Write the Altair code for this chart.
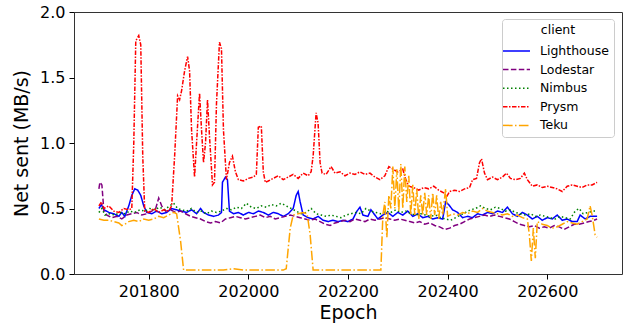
import altair as alt
import pandas as pd

clients = ["Lighthouse", "Lodestar", "Nimbus", "Prysm", "Teku"]
colors = ["blue", "purple", "green", "red", "orange"]
dashes = [[1, 0], [5.5, 2.4], [1.5, 2.5], [4.5, 1.5, 1.5, 1.5], [9.6, 2.4, 1.5, 2.4]]

x_ticks = [201800, 202000, 202200, 202400, 202600]
y_ticks = [0.0, 0.5, 1.0, 1.5, 2.0]

prysm_epoch = [201700, 201705, 201710, 201720, 201730, 201740, 201750, 201760, 201766, 201770,
               201774, 201780, 201784, 201788, 201792, 201800, 201810, 201820, 201830, 201840,
               201846, 201852, 201858, 201862, 201866, 201872, 201878, 201882, 201886, 201892,
               201896, 201902, 201906, 201910, 201914, 201918, 201922, 201928, 201932, 201936,
               201942, 201946, 201950, 201956, 201962, 201968, 201974, 201980, 201990, 202000,
               202010, 202016, 202020, 202026, 202030, 202034, 202040, 202050, 202060, 202070,
               202080, 202090, 202100, 202110, 202120, 202126, 202130, 202136, 202140, 202144,
               202148, 202156, 202166, 202174, 202184, 202194, 202204, 202214, 202224, 202234,
               202244, 202254, 202264, 202274, 202282, 202290, 202300, 202310, 202316, 202322,
               202332, 202342, 202352, 202362, 202372, 202382, 202392, 202398, 202404, 202414,
               202424, 202434, 202444, 202450, 202458, 202464, 202468, 202474, 202480, 202490,
               202500, 202510, 202518, 202526, 202536, 202546, 202554, 202560, 202570, 202580,
               202590, 202600, 202610, 202620, 202630, 202640, 202650, 202660, 202670, 202680,
               202690, 202700]
prysm_value = [0.52, 0.55, 0.50, 0.52, 0.48, 0.47, 0.50, 0.49, 0.50, 1.00,
               1.78, 1.82, 1.75, 0.90, 0.48, 0.47, 0.50, 0.47, 0.49, 0.48,
               0.52, 0.90, 1.36, 1.33, 1.40, 1.55, 1.66, 1.55, 1.10, 0.74,
               1.00, 1.38, 1.10, 0.85, 1.00, 1.33, 1.05, 0.68, 0.70, 1.30,
               1.77, 1.72, 1.10, 0.72, 0.85, 0.90, 0.78, 0.72, 0.71, 0.73,
               0.74, 0.76, 1.12, 1.13, 0.78, 0.70, 0.71, 0.73, 0.75, 0.72,
               0.74, 0.76, 0.73, 0.77, 0.75, 0.78, 0.90, 1.23, 1.15, 0.85,
               0.77, 0.76, 0.82, 0.77, 0.78, 0.75, 0.77, 0.76, 0.78, 0.76,
               0.77, 0.74, 0.72, 0.75, 0.82, 0.80, 0.78, 0.80, 0.72, 0.67,
               0.66, 0.64, 0.66, 0.65, 0.67, 0.64, 0.62, 0.59, 0.63, 0.64,
               0.63, 0.65, 0.66, 0.72, 0.73, 0.85, 0.88, 0.77, 0.72, 0.74,
               0.72, 0.74, 0.77, 0.73, 0.72, 0.73, 0.77, 0.72, 0.67, 0.68,
               0.66, 0.67, 0.66, 0.65, 0.63, 0.67, 0.68, 0.67, 0.66, 0.68,
               0.68, 0.70]

lighthouse_epoch = [201700, 201705, 201710, 201720, 201730, 201740, 201746, 201752, 201760, 201766,
                    201772, 201778, 201784, 201790, 201796, 201806, 201816, 201826, 201836, 201846,
                    201856, 201866, 201876, 201886, 201896, 201904, 201910, 201920, 201930, 201940,
                    201946, 201948, 201954, 201958, 201962, 201970, 201980, 201990, 202000, 202010,
                    202020, 202030, 202040, 202050, 202060, 202070, 202080, 202090, 202096, 202100,
                    202104, 202110, 202120, 202130, 202140, 202150, 202160, 202170, 202180, 202190,
                    202200, 202210, 202218, 202224, 202230, 202240, 202246, 202252, 202260, 202270,
                    202280, 202290, 202300, 202310, 202320, 202330, 202340, 202350, 202360, 202370,
                    202380, 202390, 202396, 202402, 202410, 202420, 202430, 202440, 202450, 202460,
                    202470, 202480, 202490, 202500, 202510, 202520, 202530, 202540, 202550, 202560,
                    202570, 202580, 202590, 202600, 202610, 202620, 202630, 202640, 202650, 202660,
                    202666, 202676, 202686, 202700]
lighthouse_value = [0.50, 0.53, 0.49, 0.47, 0.46, 0.44, 0.47, 0.44, 0.52, 0.60,
                    0.65, 0.64, 0.60, 0.52, 0.47, 0.46, 0.48, 0.46, 0.47, 0.50,
                    0.49, 0.48, 0.47, 0.49, 0.46, 0.50, 0.47, 0.45, 0.44, 0.45,
                    0.47, 0.70, 0.74, 0.72, 0.48, 0.46, 0.47, 0.45, 0.47, 0.46,
                    0.48, 0.47, 0.45, 0.47, 0.46, 0.44, 0.46, 0.50, 0.60, 0.63,
                    0.55, 0.45, 0.43, 0.42, 0.44, 0.41, 0.40, 0.41, 0.40, 0.41,
                    0.40, 0.42, 0.48, 0.51, 0.45, 0.44, 0.49, 0.46, 0.42, 0.45,
                    0.47, 0.44, 0.47, 0.45, 0.48, 0.44, 0.46, 0.43, 0.44, 0.42,
                    0.43, 0.42, 0.55, 0.53, 0.49, 0.47, 0.43, 0.44, 0.43, 0.46,
                    0.45, 0.47, 0.46, 0.48, 0.47, 0.51, 0.46, 0.44, 0.47, 0.45,
                    0.42, 0.44, 0.41, 0.43, 0.42, 0.45, 0.41, 0.42, 0.40, 0.40,
                    0.45, 0.42, 0.44, 0.44]

lodestar_epoch = [201700, 201702, 201706, 201710, 201716, 201726, 201736, 201746, 201756, 201766,
                  201776, 201786, 201796, 201806, 201814, 201820, 201826, 201834, 201844, 201854,
                  201864, 201874, 201884, 201894, 201904, 201914, 201924, 201934, 201944, 201954,
                  201964, 201974, 201984, 201994, 202004, 202014, 202024, 202034, 202044, 202054,
                  202064, 202074, 202084, 202094, 202104, 202114, 202124, 202134, 202144, 202154,
                  202164, 202174, 202184, 202194, 202204, 202214, 202224, 202234, 202244, 202254,
                  202264, 202274, 202284, 202294, 202304, 202314, 202324, 202334, 202344, 202354,
                  202364, 202374, 202384, 202394, 202404, 202414, 202424, 202434, 202444, 202454,
                  202464, 202474, 202484, 202494, 202504, 202514, 202524, 202534, 202544, 202554,
                  202564, 202574, 202584, 202594, 202604, 202614, 202624, 202634, 202644, 202654,
                  202664, 202674, 202684, 202694, 202700]
lodestar_value = [0.65, 0.70, 0.68, 0.48, 0.45, 0.43, 0.44, 0.42, 0.45, 0.46,
                  0.47, 0.45, 0.46, 0.48, 0.50, 0.58, 0.52, 0.48, 0.49, 0.47,
                  0.48, 0.46, 0.44, 0.43, 0.42, 0.40, 0.39, 0.40, 0.39, 0.42,
                  0.43, 0.44, 0.43, 0.42, 0.43, 0.44, 0.45, 0.43, 0.44, 0.42,
                  0.43, 0.44, 0.45, 0.44, 0.43, 0.42, 0.41, 0.42, 0.40, 0.38,
                  0.37, 0.39, 0.40, 0.41, 0.40, 0.42, 0.41, 0.40, 0.42, 0.41,
                  0.42, 0.43, 0.42, 0.41, 0.42, 0.41, 0.40, 0.39, 0.40, 0.38,
                  0.39, 0.37, 0.36, 0.34, 0.35, 0.37, 0.38, 0.40, 0.42, 0.43,
                  0.44, 0.45, 0.44, 0.45, 0.44, 0.43, 0.42, 0.40, 0.38, 0.37,
                  0.36, 0.37, 0.35, 0.36, 0.35, 0.37, 0.36, 0.34, 0.36, 0.38,
                  0.38, 0.39, 0.40, 0.41, 0.42]

nimbus_epoch = [201700, 201706, 201712, 201722, 201732, 201742, 201752, 201762, 201772, 201782,
                201792, 201802, 201812, 201822, 201832, 201842, 201850, 201858, 201866, 201876,
                201886, 201896, 201906, 201916, 201926, 201936, 201946, 201956, 201966, 201976,
                201986, 201996, 202006, 202016, 202026, 202036, 202046, 202056, 202066, 202076,
                202086, 202096, 202106, 202116, 202126, 202136, 202146, 202156, 202166, 202176,
                202186, 202196, 202206, 202216, 202226, 202236, 202246, 202256, 202266, 202276,
                202286, 202296, 202306, 202316, 202326, 202336, 202346, 202356, 202366, 202376,
                202386, 202396, 202406, 202416, 202426, 202436, 202446, 202456, 202466, 202476,
                202486, 202496, 202506, 202516, 202526, 202536, 202546, 202556, 202566, 202576,
                202586, 202596, 202606, 202616, 202626, 202636, 202646, 202656, 202664, 202672,
                202682, 202692, 202700]
nimbus_value = [0.47, 0.50, 0.45, 0.46, 0.45, 0.47, 0.46, 0.48, 0.47, 0.49,
                0.48, 0.50, 0.49, 0.51, 0.49, 0.52, 0.54, 0.50, 0.49, 0.48,
                0.50, 0.47, 0.48, 0.46, 0.48, 0.47, 0.48, 0.50, 0.49, 0.51,
                0.50, 0.54, 0.51, 0.50, 0.52, 0.51, 0.53, 0.52, 0.54, 0.52,
                0.50, 0.48, 0.46, 0.47, 0.50, 0.46, 0.45, 0.44, 0.45, 0.44,
                0.43, 0.45, 0.46, 0.47, 0.46, 0.50, 0.48, 0.47, 0.46, 0.48,
                0.47, 0.49, 0.47, 0.48, 0.46, 0.45, 0.46, 0.45, 0.44, 0.45,
                0.43, 0.42, 0.41, 0.43, 0.45, 0.47, 0.49, 0.50, 0.52, 0.50,
                0.49, 0.51, 0.50, 0.48, 0.49, 0.47, 0.46, 0.45, 0.46, 0.44,
                0.45, 0.44, 0.43, 0.42, 0.44, 0.43, 0.42, 0.48, 0.50, 0.46,
                0.47, 0.48, 0.48]

teku_epoch = [201700, 201710, 201720, 201730, 201740, 201746, 201752, 201760, 201770, 201780,
              201790, 201800, 201810, 201820, 201830, 201840, 201850, 201856, 201864, 201870,
              201900, 201950, 201970, 201990, 202030, 202070, 202076, 202084, 202090, 202100,
              202110, 202118, 202124, 202130, 202180, 202230, 202262, 202266, 202270, 202274,
              202278, 202282, 202286, 202290, 202294, 202298, 202302, 202306, 202310, 202314,
              202318, 202322, 202326, 202330, 202334, 202338, 202342, 202346, 202350, 202354,
              202358, 202362, 202366, 202370, 202374, 202378, 202382, 202386, 202390, 202396,
              202400, 202410, 202420, 202430, 202440, 202450, 202460, 202470, 202480, 202490,
              202500, 202510, 202520, 202530, 202540, 202550, 202560, 202564, 202568, 202572,
              202576, 202580, 202590, 202600, 202610, 202620, 202630, 202640, 202650, 202660,
              202670, 202680, 202686, 202690, 202696, 202700]
teku_value = [0.42, 0.41, 0.41, 0.40, 0.39, 0.37, 0.38, 0.40, 0.41, 0.40,
              0.42, 0.41, 0.42, 0.44, 0.43, 0.45, 0.47, 0.46, 0.25, 0.03,
              0.03, 0.03, 0.04, 0.03, 0.03, 0.03, 0.04, 0.35, 0.45, 0.46,
              0.47, 0.46, 0.30, 0.03, 0.03, 0.03, 0.03, 0.03, 0.45, 0.55,
              0.28, 0.60, 0.50, 0.82, 0.50, 0.80, 0.48, 0.84, 0.50, 0.82,
              0.55, 0.75, 0.45, 0.68, 0.45, 0.65, 0.42, 0.60, 0.45, 0.62,
              0.45, 0.60, 0.42, 0.62, 0.45, 0.60, 0.42, 0.55, 0.45, 0.65,
              0.44, 0.46, 0.45, 0.47, 0.46, 0.48, 0.47, 0.50, 0.48, 0.47,
              0.46, 0.45, 0.46, 0.44, 0.45, 0.43, 0.42, 0.30, 0.10, 0.35,
              0.12, 0.40, 0.38, 0.37, 0.35, 0.36, 0.38, 0.40, 0.39, 0.38,
              0.40, 0.42, 0.52, 0.45, 0.30, 0.28]

series = {
    "Lighthouse": (lighthouse_epoch, lighthouse_value),
    "Lodestar": (lodestar_epoch, lodestar_value),
    "Nimbus": (nimbus_epoch, nimbus_value),
    "Prysm": (prysm_epoch, prysm_value),
    "Teku": (teku_epoch, teku_value),
}

rows = []
for name, (ep, val) in series.items():
    for e, v in zip(ep, val):
        rows.append({"epoch": e, "value": v, "client": name})
df = pd.DataFrame(rows)

FONT = "DejaVu Sans"

chart = alt.Chart(df).mark_line(strokeWidth=1.5, clip=True).encode(
    x=alt.X("epoch:Q",
            scale=alt.Scale(domain=[201650, 202750], nice=False, zero=False),
            axis=alt.Axis(values=x_ticks, format="d", title="Epoch", titlePadding=4)),
    y=alt.Y("value:Q",
            scale=alt.Scale(domain=[0, 2], nice=False),
            axis=alt.Axis(values=y_ticks, format=".1f", title="Net sent (MB/s)", titlePadding=8)),
    color=alt.Color("client:N", scale=alt.Scale(domain=clients, range=colors),
                    legend=alt.Legend(title="client")),
    strokeDash=alt.StrokeDash("client:N", scale=alt.Scale(domain=clients, range=dashes),
                              legend=alt.Legend(title="client")),
).properties(
    width=548, height=262,
    padding={"left": 74, "top": 12, "right": 5, "bottom": 49},
    autosize="none",
).configure_view(
    stroke="#333333", strokeWidth=1
).configure_axis(
    grid=False, domain=False,
    labelFont=FONT, labelFontSize=16, labelColor="black", labelPadding=4,
    tickColor="black", tickSize=5, tickWidth=1,
    titleFont=FONT, titleFontSize=19, titleFontWeight="normal", titleColor="black",
).configure_legend(
    orient="none", legendX=428, legendY=7,
    symbolType="M-1.588,0H1.588", symbolSize=289, symbolStrokeWidth=1.5,
    labelFont=FONT, labelFontSize=12.5, labelColor="black", labelOffset=14,
    titleFont=FONT, titleFontSize=12.5, titleFontWeight="normal", titleColor="black",
    titleAnchor="middle", titlePadding=5,
    fillColor="white", strokeColor="#cccccc", cornerRadius=3, padding=5, rowPadding=2.6,
)

chart.save("out.html", embed_options={"renderer": "svg", "actions": False})
